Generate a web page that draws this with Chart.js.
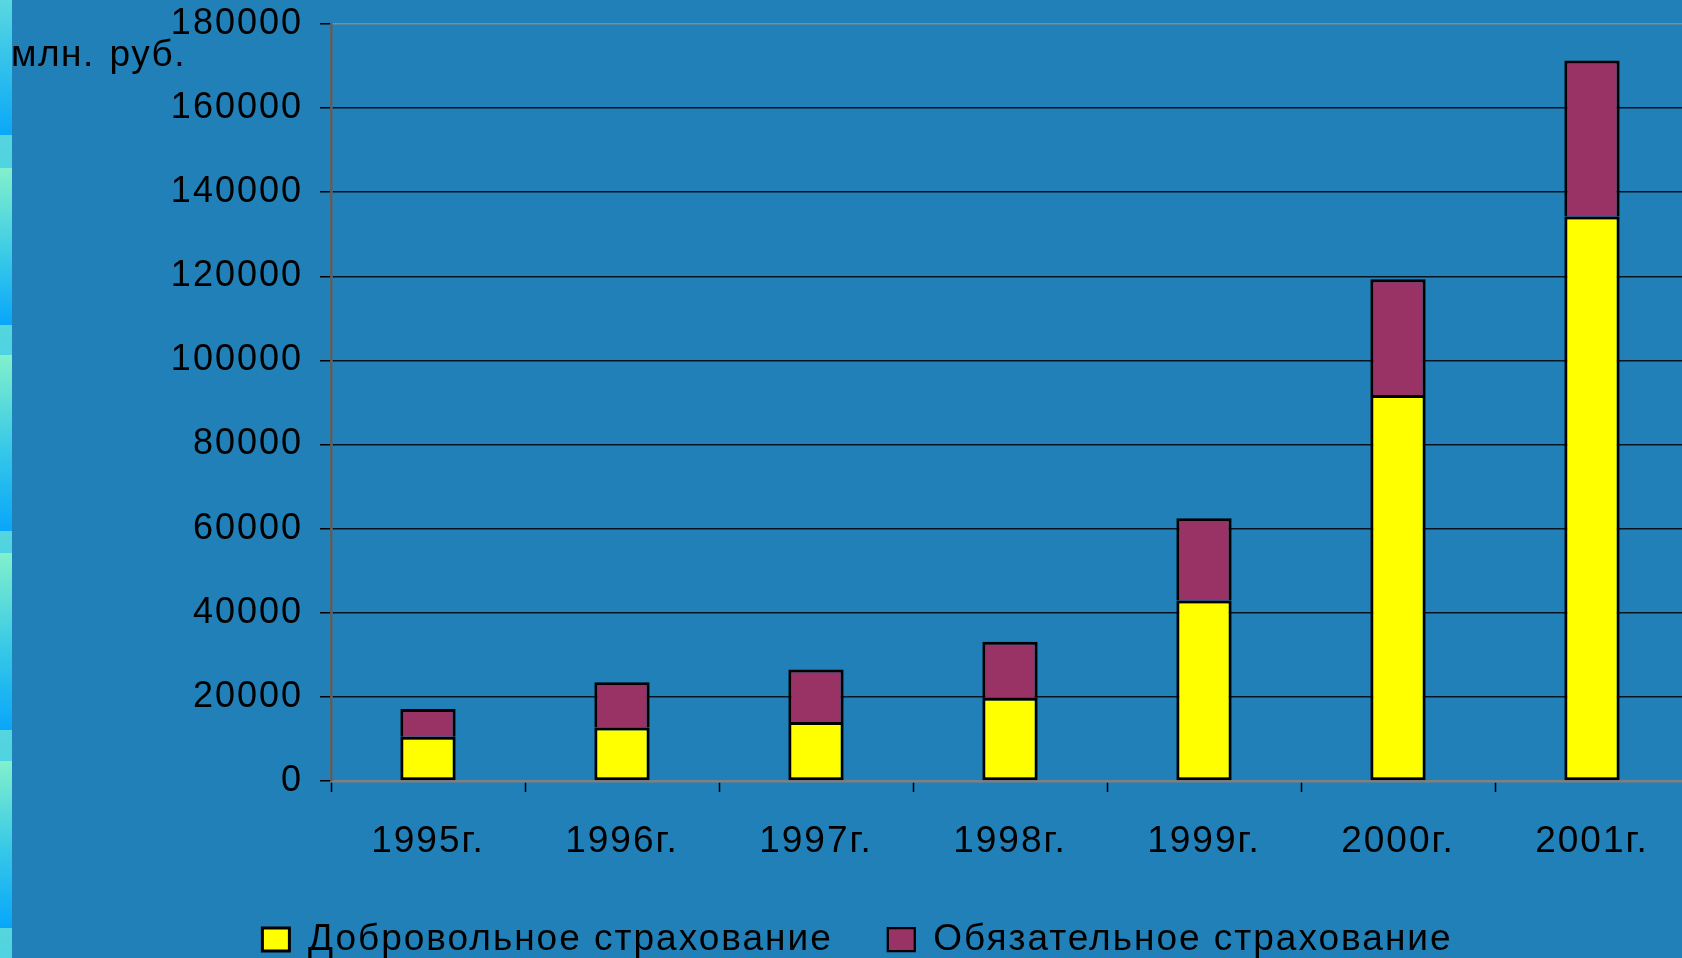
<!DOCTYPE html>
<html>
<head>
<meta charset="utf-8">
<script src="https://cdn.jsdelivr.net/npm/chart.js@4/dist/chart.umd.min.js"></script>
<style>
  html, body { margin: 0; padding: 0; width: 1682px; height: 958px; overflow: hidden; background: #2180b7; }
  #wrap { position: relative; width: 1682px; height: 958px; overflow: hidden; }
  #c { position: absolute; left: 0; top: 0; }
  #strip {
    position: absolute; left: 0; top: 0; width: 12px; height: 958px;
    background: linear-gradient(to bottom,
      #58d8e0 0px, #0aa8f8 135px,
      #55d6de 135px, #4fd2e2 168px,
      #82f0cc 168px, #36c8e8 260px, #08a6fa 325px,
      #55d6de 325px, #4fd2e2 355px,
      #82f0cc 355px, #36c8e8 450px, #08a6fa 531px,
      #55d6de 531px, #4fd2e2 553px,
      #82f0cc 553px, #36c8e8 650px, #08a6fa 730px,
      #55d6de 730px, #4fd2e2 761px,
      #82f0cc 761px, #36c8e8 850px, #08a6fa 928px,
      #55d6de 928px, #4fd2e2 958px);
  }
  #unit {
    position: absolute; left: 11px; top: 36px; font: 37px "Liberation Sans", Arial, sans-serif;
    line-height: 36px; color: #000; white-space: pre; letter-spacing: 1.5px; word-spacing: 3px;
  }
</style>
</head>
<body>
<div id="wrap">
  <canvas id="c" width="1690" height="968"></canvas>
  <div id="strip"></div>
  <div id="unit">млн. руб.</div>
</div>
<script>
const categories = ["1995г.", "1996г.", "1997г.", "1998г.", "1999г.", "2000г.", "2001г."];
const voluntary = [10500, 12700, 14000, 19800, 42900, 91800, 134200];
const mandatory = [6600, 10800, 12500, 13300, 19600, 27500, 37100];
const seriesNames = ["Добровольное страхование", "Обязательное страхование"];
const yMin = 0, yMax = 180000, yStep = 20000;

const FONT = '"Liberation Sans", Arial, sans-serif';

const spacingPlugin = {
  id: 'spacing',
  beforeInit(chart) { chart.ctx.letterSpacing = '2px'; },
  beforeLayout(chart) { chart.ctx.letterSpacing = '2px'; },
  beforeDraw(chart) { chart.ctx.letterSpacing = '2px'; }
};

new Chart(document.getElementById('c'), {
  type: 'bar',
  plugins: [spacingPlugin],
  data: {
    labels: categories,
    datasets: [
      {
        label: seriesNames[0], data: voluntary,
        backgroundColor: '#ffff00', borderColor: '#000000', borderWidth: 3,
        borderSkipped: false, barPercentage: 0.285, categoryPercentage: 1.0
      },
      {
        label: seriesNames[1], data: mandatory,
        backgroundColor: '#993366', borderColor: '#000000',
        borderWidth: { top: 3, left: 3, right: 3, bottom: 0 },
        borderSkipped: false, barPercentage: 0.285, categoryPercentage: 1.0
      }
    ]
  },
  options: {
    responsive: false,
    animation: false,
    devicePixelRatio: 1,
    layout: { padding: { left: 26, right: 1, top: 24, bottom: 0 } },
    plugins: {
      tooltip: { enabled: false },
      legend: {
        position: 'bottom',
        labels: {
          color: '#000',
          font: { family: FONT, size: 37 },
          boxWidth: 27, boxHeight: 23,
          padding: 55
        }
      }
    },
    scales: {
      x: {
        stacked: true,
        afterFit: s => { s.height = 85; },
        grid: {
          drawOnChartArea: false, drawTicks: true, tickLength: 11,
          tickColor: '#000', tickWidth: 1.5
        },
        border: { display: true, color: '#808080', width: 2.5 },
        ticks: { color: '#000', font: { family: FONT, size: 37 }, padding: 28, maxRotation: 0 }
      },
      y: {
        stacked: true,
        min: yMin, max: yMax,
        afterFit: s => { s.width = 305; s.paddingTop = 0; s.paddingBottom = 0; },
        grid: {
          color: ctx => (ctx.tick && ctx.tick.value === yMax) ? '#8a8a8a' : '#06121e',
          lineWidth: 1.5,
          drawTicks: true, tickLength: 11, tickColor: '#000', tickWidth: 1.5
        },
        border: { display: true, color: '#5e5e5e', width: 2.5 },
        ticks: {
          stepSize: yStep,
          color: '#000', font: { family: FONT, size: 36 }, padding: 17,
          callback: v => String(v)
        }
      }
    }
  }
});
</script>
</body>
</html>
